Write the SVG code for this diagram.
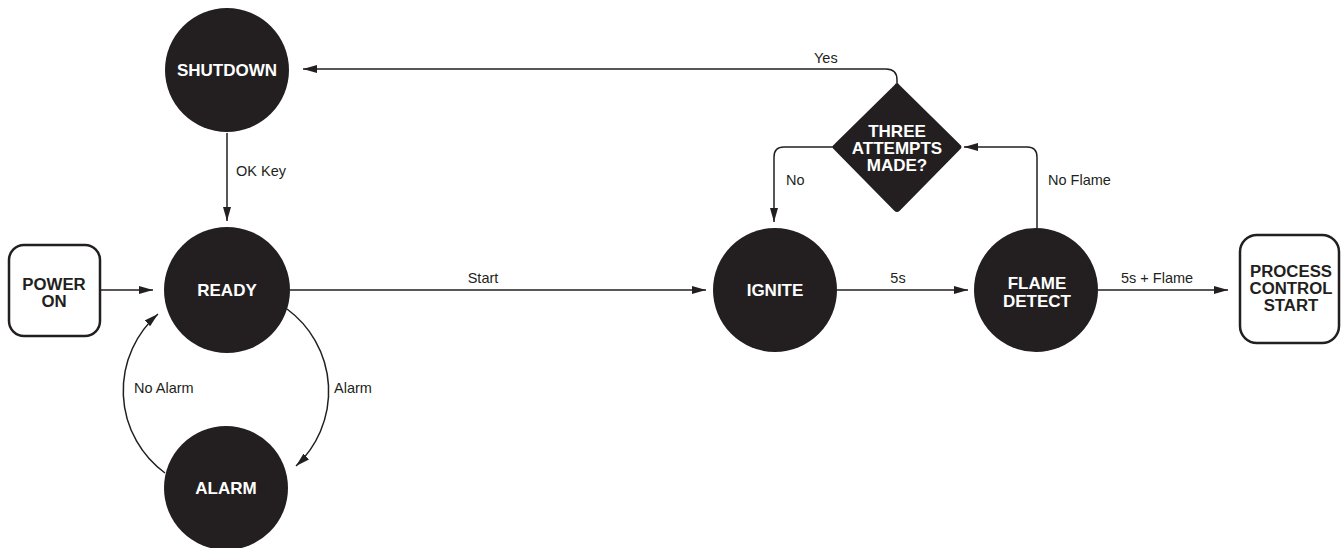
<svg xmlns="http://www.w3.org/2000/svg" width="1342" height="548" viewBox="0 0 1342 548">
<style>
.node{fill:#231f20}
.box{fill:#fff;stroke:#231f20;stroke-width:2.5}
.nt{font-family:"Liberation Sans",Arial,sans-serif;font-weight:bold;font-size:17px;fill:#fff;text-anchor:middle}
.bt{font-family:"Liberation Sans",Arial,sans-serif;font-weight:bold;font-size:16.8px;fill:#231f20;text-anchor:middle}
.lb{font-family:"Liberation Sans",Arial,sans-serif;font-size:14.5px;fill:#231f20}
.c{fill:none;stroke:#231f20;stroke-width:1.5;marker-end:url(#ah)}
</style>
<defs>
<marker id="ah" viewBox="0 0 14 8" refX="14" refY="4" markerWidth="14" markerHeight="8" markerUnits="userSpaceOnUse" orient="auto">
<path d="M0,0 L14,4 L0,8 Z" fill="#231f20"/>
</marker>
</defs>
<rect width="1342" height="548" fill="#fff"/>
<g id="connectors">
<path class="c" d="M100,290 H153"/>
<path class="c" d="M290,290 H706"/>
<path class="c" d="M837,290 H968"/>
<path class="c" d="M1098,290 H1228"/>
<path class="c" d="M227,133 V221"/>
<path class="c" d="M897,83 V80 Q897,69 886,69 H303"/>
<path class="c" d="M833,147 H784 Q774,147 774,157 V222"/>
<path class="c" d="M1037,228 V157 Q1037,147 1027,147 H964"/>
<path class="c" d="M287,309 A102,102 0 0 1 296,466"/>
<path class="c" d="M165,473 A102,102 0 0 1 158,314"/>
<text class="lb" x="483" y="283" text-anchor="middle">Start</text>
<text class="lb" x="898" y="283" text-anchor="middle">5s</text>
<text class="lb" x="1121" y="283">5s + Flame</text>
<text class="lb" x="236" y="176">OK Key</text>
<text class="lb" x="814" y="63">Yes</text>
<text class="lb" x="786" y="185">No</text>
<text class="lb" x="1048" y="185">No Flame</text>
<text class="lb" x="334" y="393">Alarm</text>
<text class="lb" x="134" y="393">No Alarm</text>
</g>
<g id="power-on">
<rect class="box" x="9" y="245" width="91" height="91" rx="15"/>
<text class="bt" x="54" y="290">POWER</text>
<text class="bt" x="54" y="307">ON</text>
</g>
<g id="shutdown">
<circle class="node" cx="227" cy="70" r="62"/>
<text class="nt" x="227" y="76">SHUTDOWN</text>
</g>
<g id="ready">
<circle class="node" cx="227" cy="290" r="63"/>
<text class="nt" x="227" y="296">READY</text>
</g>
<g id="alarm">
<circle class="node" cx="226" cy="488" r="62"/>
<text class="nt" x="226" y="494">ALARM</text>
</g>
<g id="ignite">
<circle class="node" cx="775" cy="290" r="62"/>
<text class="nt" x="775" y="296">IGNITE</text>
</g>
<g id="flame-detect">
<circle class="node" cx="1036" cy="290" r="62"/>
<text class="nt" x="1037" y="289">FLAME</text>
<text class="nt" x="1037" y="307">DETECT</text>
</g>
<g id="three-attempts">
<path class="node" d="M897,84 L959,145 Q962,147 959,149 L899,210 Q897,212 895,210 L835,149 Q832,147 835,145 L895,86 Q897,82 899,86 Z" stroke="#231f20" stroke-width="2" stroke-linejoin="round"/>
<text class="nt" x="897" y="137">THREE</text>
<text class="nt" x="897" y="154">ATTEMPTS</text>
<text class="nt" x="897" y="171">MADE?</text>
</g>
<g id="process-control-start">
<rect class="box" x="1240" y="235" width="99" height="108" rx="17"/>
<text class="bt" x="1291" y="277">PROCESS</text>
<text class="bt" x="1291" y="294">CONTROL</text>
<text class="bt" x="1291" y="311">START</text>
</g>
</svg>
